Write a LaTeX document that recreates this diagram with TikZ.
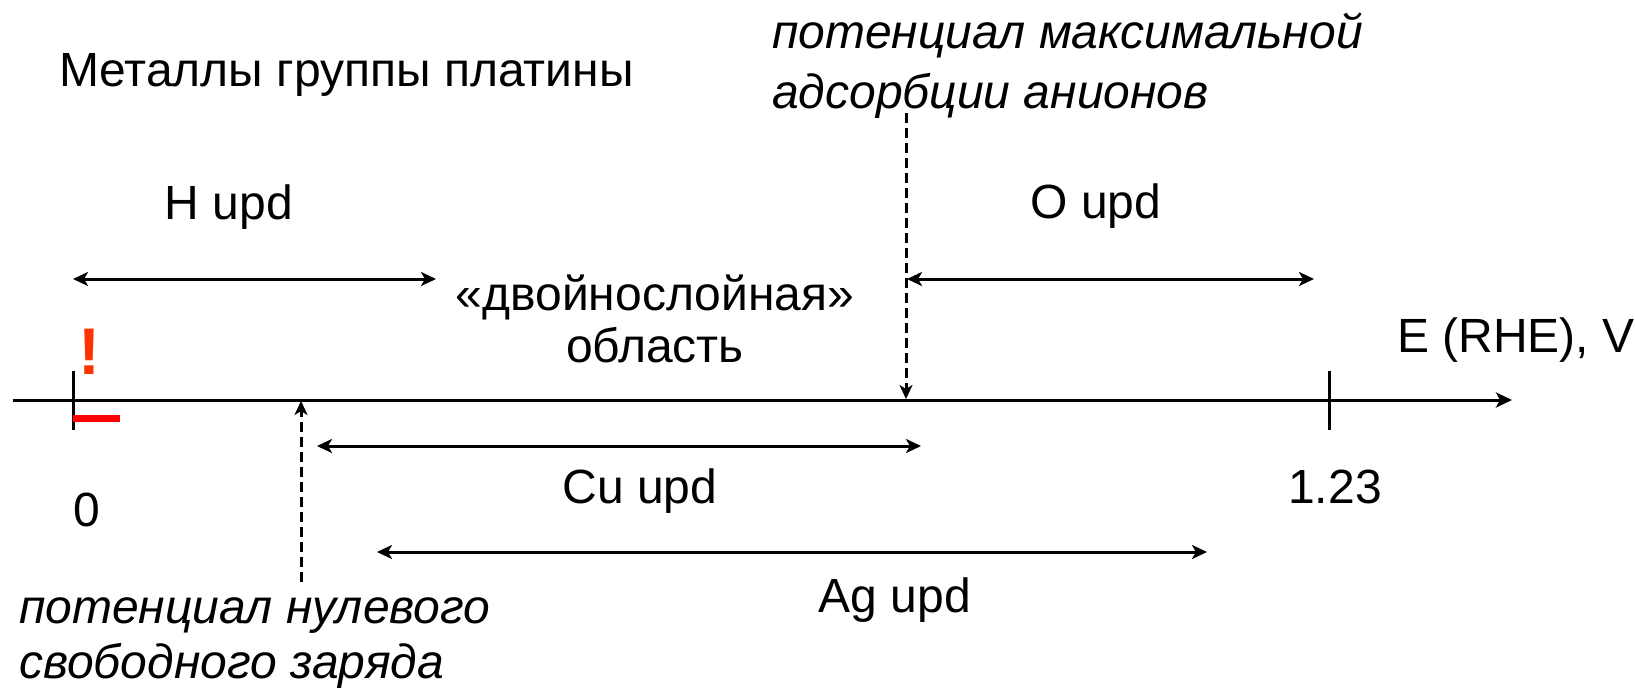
\documentclass[tikz,border=0pt]{standalone}
\usepackage{fontspec}
\setmainfont{Liberation Sans}
\usetikzlibrary{arrows.meta}
\definecolor{excl}{HTML}{FF3300}
\begin{document}
\begin{tikzpicture}[x=1pt,y=-1pt,
  lbl/.style={inner sep=0pt,anchor=base,font=\fontsize{48}{56}\selectfont},
  lbll/.style={inner sep=0pt,anchor=base west,font=\fontsize{48}{56}\selectfont},
  ital/.style={inner sep=0pt,anchor=base west,font=\fontsize{48}{56}\selectfont\itshape},
  ln/.style={line width=3pt},
  dbl/.style={ln,{Stealth[length=15pt,width=14pt,inset=4pt]}-{Stealth[length=15pt,width=14pt,inset=4pt]}},
  dsh/.style={line width=3pt,dash pattern=on 10pt off 5pt,-{Stealth[length=14pt,width=13pt,inset=4pt]}}
]
\useasboundingbox (0,0) rectangle (1635,688);
% axis
\coordinate (ax0) at (13,400);
\coordinate (ax1) at (1512,400);
\draw[ln,-{Stealth[length=16pt,width=15pt,inset=4pt]}] (ax0) -- (ax1);
% ticks
\coordinate (t0a) at (73,371); \coordinate (t0b) at (73,430);
\coordinate (t1a) at (1329,371); \coordinate (t1b) at (1329,430);
\draw[ln] (t0a) -- (t0b);
\draw[ln] (t1a) -- (t1b);
% red minus and exclamation
\coordinate (ma) at (73,418); \coordinate (mb) at (120,418);
\draw[red,line width=7pt] (ma) -- (mb);
\node[inner sep=0pt,anchor=base,text=excl,font=\fontsize{66}{70}\bfseries] (ex) at (89,374) {!};
% texts
\node[lbll] (title) at (59,86) {Металлы группы платины};
\node[ital] (pmax1) at (772,48) {потенциал максимальной};
\node[ital] (pmax2) at (772,108) {адсорбции анионов};
\node[lbl] (hupd) at (229,219) {H upd};
\node[lbl] (oupd) at (1096,218) {O upd};
\node[lbl] (dl1) at (655,310) {«двойнослойная»};
\node[lbl] (dl2) at (655,362) {область};
\node[lbll] (eaxis) at (1397,352) {E (RHE), V};
\node[lbl] (zero) at (87,526) {0};
\node[lbl] (v123) at (1335,503) {1.23};
\node[lbl] (cuupd) at (640,503) {Cu upd};
\node[lbl] (agupd) at (895,612) {Ag upd};
\node[ital] (pzc1) at (19,623) {потенциал нулевого};
\node[ital] (pzc2) at (19,678) {свободного заряда};
% double arrows
\coordinate (ha) at (73,279); \coordinate (hb) at (436,279);
\draw[dbl] (ha) -- (hb);
\coordinate (oa) at (907,279); \coordinate (ob) at (1314,279);
\draw[dbl] (oa) -- (ob);
\coordinate (ca) at (317,446); \coordinate (cb) at (921,446);
\draw[dbl] (ca) -- (cb);
\coordinate (aa) at (377,552); \coordinate (ab) at (1207,552);
\draw[dbl] (aa) -- (ab);
% dashed arrows
\coordinate (d1a) at (301,582); \coordinate (d1b) at (301,401);
\draw[dsh] (d1a) -- (d1b);
\coordinate (d2a) at (906,113); \coordinate (d2b) at (906,399);
\draw[dsh] (d2a) -- (d2b);
\end{tikzpicture}
\end{document}
